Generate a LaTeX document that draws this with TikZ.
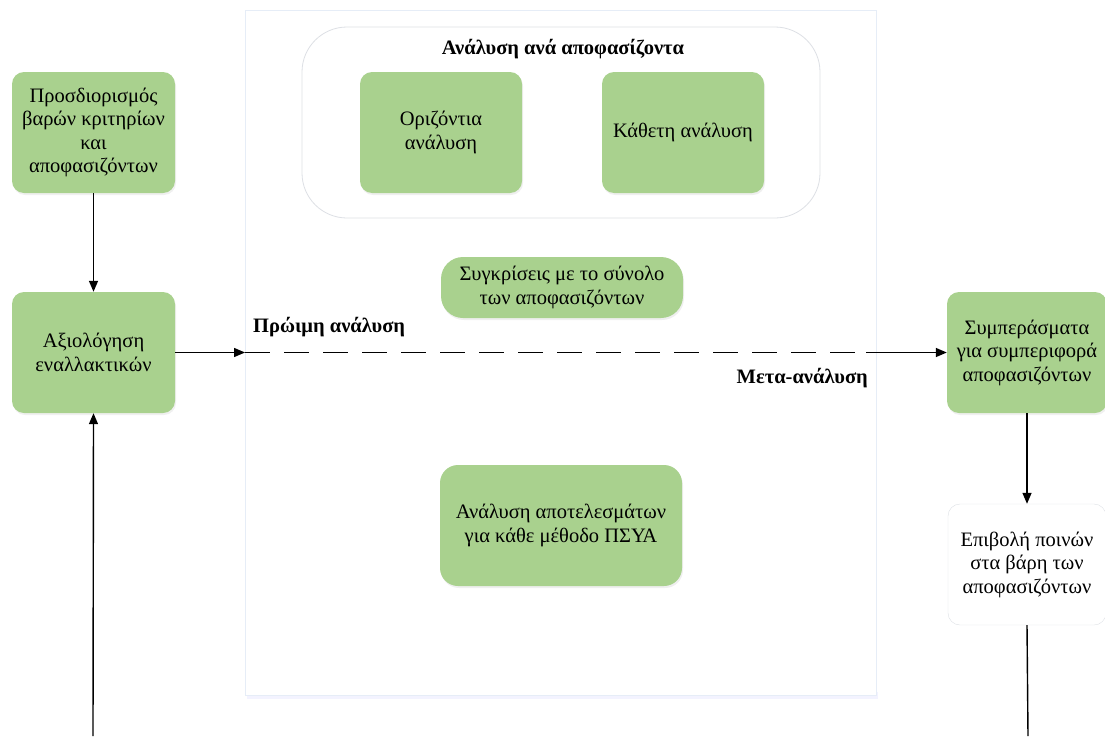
\documentclass[tikz,border=0pt]{standalone}
\usepackage{fontspec}
\setmainfont{Liberation Serif}
\usetikzlibrary{arrows.meta,shadows}
\definecolor{boxgreen}{HTML}{A9D18E}
\definecolor{panelline}{HTML}{E6EDF7}
\definecolor{groupline}{HTML}{DDE0E5}
\tikzset{
  stepbox/.style={rounded corners=12pt, fill=boxgreen, align=center, inner sep=2pt,
    font=\fontsize{20.5}{23.5}\selectfont,
    drop shadow={opacity=0.12, shadow xshift=1pt, shadow yshift=-2pt}},
  whitebox/.style={rounded corners=12pt, fill=white, draw=groupline, align=center, inner sep=2pt,
    font=\fontsize{20.5}{23.5}\selectfont},
  flow/.style={line width=1.4pt, -{Triangle[length=11pt,width=9pt]}},
  plain/.style={line width=1.4pt},
  lbl/.style={font=\bfseries\fontsize{20.5}{23.5}\selectfont, inner sep=0pt}
}
\begin{document}
\begin{tikzpicture}[x=1pt,y=-1pt]
\useasboundingbox (0,0) rectangle (1105,736);

% central analysis panel with its soft lower shadow
\fill[blue!8, opacity=0.6] (247,692) rectangle (878,699);
\draw[panelline, fill=white, line width=1pt] (245,10) rectangle (876,695);

% per-decision-maker group
\draw[groupline, line width=0.8pt, rounded corners=45pt] (302,27) rectangle (820,218);
\node[lbl] (grouptitle) at (563,49) {Ανάλυση ανά αποφασίζοντα};

\node[stepbox, minimum width=162pt, minimum height=121pt] (horiz) at (441,132.5) {Οριζόντια\\ανάλυση};
\node[stepbox, minimum width=162pt, minimum height=121pt] (vert) at (683,132.5) {Κάθετη ανάλυση};

\node[stepbox, rounded corners=22pt, minimum width=242pt, minimum height=61pt] (compare) at (562,287.5) {Συγκρίσεις με το σύνολο\\των αποφασιζόντων};
\node[stepbox, rounded corners=18pt, minimum width=242pt, minimum height=121pt] (results) at (561,525.5) {Ανάλυση αποτελεσμάτων\\για κάθε μέθοδο ΠΣΥΑ};

% left column
\node[stepbox, minimum width=163pt, minimum height=121pt] (weights) at (93.5,132.5) {Προσδιορισμός\\βαρών κριτηρίων\\και\\αποφασιζόντων};
\node[stepbox, minimum width=163pt, minimum height=121pt] (evaluate) at (93.5,352.5) {Αξιολόγηση\\εναλλακτικών};

% right column
\node[stepbox, minimum width=160pt, minimum height=121pt] (conclude) at (1027,352.5) {Συμπεράσματα\\για συμπεριφορά\\αποφασιζόντων};
\node[whitebox, minimum width=158pt, minimum height=121pt] (penalty) at (1027,564.5) {Επιβολή ποινών\\στα βάρη των\\αποφασιζόντων};

% connector end points
\coordinate (loopin) at (93,736);
\coordinate (loopout) at (1028,736);
\coordinate (panelin) at (245,352.5);
\coordinate (dashend) at (866,352.5);

% connectors
\draw[flow] (weights.south) -- (evaluate.north);
\draw[flow] (loopin) -- (evaluate.south);
\draw[flow] (evaluate.east) -- (panelin);
\draw[plain, dash pattern=on 25pt off 14pt] (panelin) -- (dashend);
\draw[flow] (dashend) -- (conclude.west);
\draw[flow] (conclude.south -| penalty.north) -- (penalty.north);
\draw[plain] (penalty.south) -- (loopout);

\node[lbl, anchor=west] (early) at (253,327) {Πρώιμη ανάλυση};
\node[lbl, anchor=east] (meta) at (868,378) {Μετα-ανάλυση};
\end{tikzpicture}
\end{document}
